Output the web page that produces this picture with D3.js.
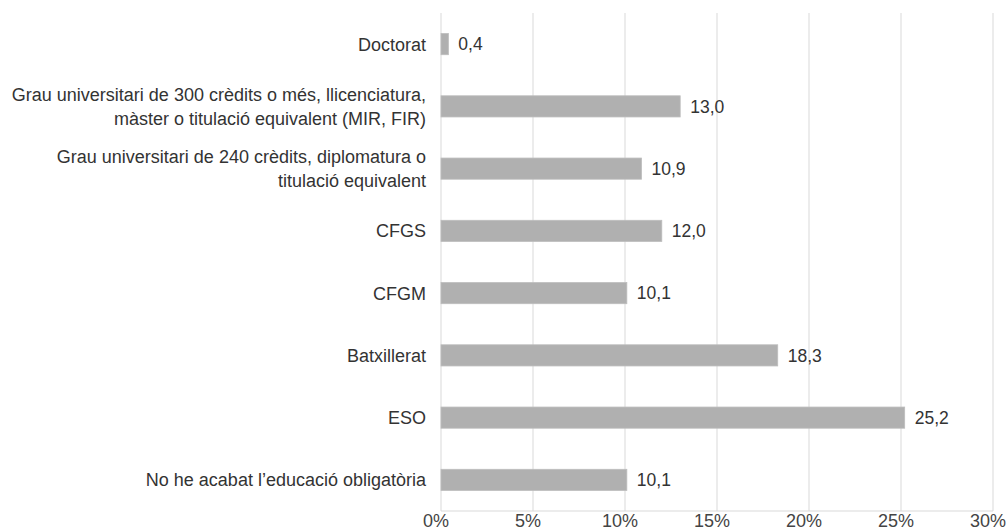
<!DOCTYPE html>
<html><head><meta charset="utf-8">
<script src="https://cdn.jsdelivr.net/npm/d3@7"></script>
<style>body{margin:0;background:#fff}svg{display:block}</style>
</head><body><svg id="c" width="1006" height="530"></svg>
<script>
const categories = [
  ["Doctorat"],
  ["Grau universitari de 300 crèdits o més, llicenciatura,", "màster o titulació equivalent (MIR, FIR)"],
  ["Grau universitari de 240 crèdits, diplomatura o", "titulació equivalent"],
  ["CFGS"],
  ["CFGM"],
  ["Batxillerat"],
  ["ESO"],
  ["No he acabat l\u2019educació obligatòria"]
];
const values = [0.4, 13.0, 10.9, 12.0, 10.1, 18.3, 25.2, 10.1];
const ticks = [0, 5, 10, 15, 20, 25, 30];

const svg = d3.select("#c");
const font = "'Liberation Sans', Arial, sans-serif";
const x = d3.scaleLinear().domain([0, 30]).range([441, 993]);
const y = d3.scaleBand().domain(d3.range(values.length)).range([13, 511]).paddingInner(0.66).paddingOuter(0.33);

svg.append("g").selectAll("line").data(ticks).join("line")
  .attr("x1", d => x(d)).attr("x2", d => x(d))
  .attr("y1", 13).attr("y2", 511)
  .attr("stroke", "#d9d9d9").attr("stroke-width", 1);
svg.append("line").attr("x1", x(0)).attr("x2", x(30)).attr("y1", 511).attr("y2", 511)
  .attr("stroke", "#d9d9d9");

svg.append("g").selectAll("rect").data(values).join("rect")
  .attr("x", x(0)).attr("y", (d, i) => y(i))
  .attr("width", d => x(d) - x(0)).attr("height", y.bandwidth())
  .attr("fill", "#b0b0b0").attr("stroke", "#bdbdbd").attr("stroke-width", 0.8);

svg.append("g").selectAll("text").data(values).join("text")
  .attr("x", d => x(d) + 10).attr("y", (d, i) => y(i) + y.bandwidth() / 2)
  .attr("dy", "0.36em")
  .attr("font-family", font).attr("font-size", 17.5).attr("fill", "#333")
  .text(d => d.toFixed(1).replace(".", ","));

const lab = svg.append("g").selectAll("text").data(categories).join("text")
  .attr("text-anchor", "end")
  .attr("font-family", font).attr("font-size", 18).attr("fill", "#333");
lab.each(function(lines, i) {
  const cy = y(i) + y.bandwidth() / 2;
  const t = d3.select(this);
  lines.forEach((l, k) => {
    t.append("tspan").attr("x", 426)
      .attr("y", cy + (k - (lines.length - 1) / 2) * 24)
      .attr("dy", "0.36em").text(l);
  });
});

svg.append("g").selectAll("text").data(ticks).join("text")
  .attr("x", d => x(d) - 5).attr("y", 527)
  .attr("text-anchor", "middle")
  .attr("font-family", font).attr("font-size", 18).attr("fill", "#444")
  .text(d => d + "%");
</script></body></html>
